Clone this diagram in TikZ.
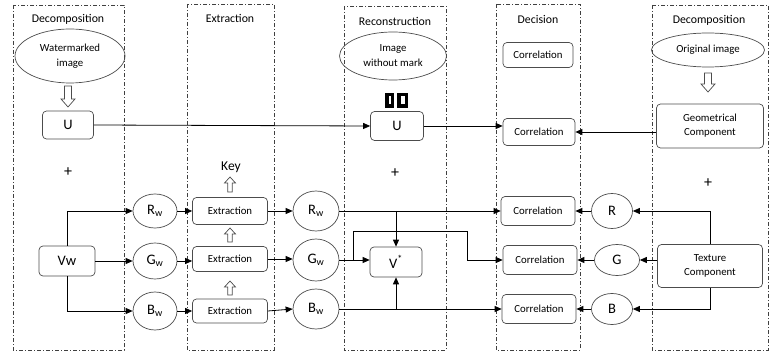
\documentclass[tikz,border=0pt]{standalone}
\usepackage{fontspec}
\setmainfont{Carlito}
\usetikzlibrary{arrows.meta,shapes.geometric}
\newcommand\hdown[3]{\draw[hollow] ({#1-3.5},#2) -- ({#1+3.5},#2) -- ({#1+3.5},{#3-8}) -- ({#1+7},{#3-8}) -- (#1,#3) -- ({#1-7},{#3-8}) -- ({#1-3.5},{#3-8}) -- cycle;}
\newcommand\hup[3]{\draw[hollow] ({#1-2.3},#3) -- ({#1+2.3},#3) -- ({#1+2.3},{#2+6}) -- ({#1+5.5},{#2+6}) -- (#1,#2) -- ({#1-5.5},{#2+6}) -- ({#1-2.3},{#2+6}) -- cycle;}
\begin{document}
\begin{tikzpicture}[x=1pt,y=-1pt,
  panel/.style={draw=black!75, line width=0.8pt, dash pattern=on 4pt off 2pt on 1pt off 2pt},
  rbox/.style={draw=black!70, rounded corners=4pt, line width=0.7pt, inner sep=0pt, align=center, font=\fontsize{10.8}{14}\selectfont},
  ell/.style={draw=black!70, ellipse, line width=0.7pt, inner sep=0pt, align=center, font=\fontsize{10.8}{15}\selectfont},
  ttl/.style={font=\fontsize{11.8}{14}\selectfont},
  big/.style={font=\fontsize{14.5}{16}\selectfont},
  conn/.style={draw=black, line width=0.8pt},
  arr/.style={conn, -{Triangle[length=7pt,width=6pt]}},
  hollow/.style={draw=black!70, line width=0.7pt, fill=white}
]
\useasboundingbox (0,0) rectangle (770,352);
% panels
\draw[panel] (13,5) rectangle (124,350);
\draw[panel] (187,4) rectangle (274,350);
\draw[panel] (344,6) rectangle (446,350);
\draw[panel] (496,4) rectangle (580,350);
\draw[panel] (652,5) rectangle (768,350);
% titles
\node[ttl] (t1) at (68,19) {Decomposition};
\node[ttl] (t2) at (230,18) {Extraction};
\node[ttl] (t3) at (395,21) {Reconstruction};
\node[ttl] (t4) at (538,19) {Decision};
\node[ttl] (t5) at (709,20) {Decomposition};
% ellipses
\node[ell, minimum width=110, minimum height=54] (wm) at (70,56) {Watermarked\\image};
\node[ell, minimum width=107, minimum height=48] (iw) at (393,56) {Image\\without mark};
\node[ell, minimum width=113, minimum height=34] (oi) at (708,50) {Original image};
% hollow arrows
\hdown{68}{86}{107}
\hdown{708}{73}{92}
\hup{230}{177}{192}
\hup{230}{228}{242}
\hup{230}{281}{295}
% glyph boxes
\draw[line width=3.5pt] (386.75,94.75) rectangle (392.25,106.25);
\draw[line width=3.5pt] (398.75,94.75) rectangle (406.25,106.25);
% U boxes
\node[rbox, big, minimum width=51, minimum height=28] (u1) at (68,125) {U};
\node[rbox, big, minimum width=53, minimum height=29] (u2) at (397,126) {U};
\node[rbox, minimum width=70, minimum height=25] (c1) at (538,55) {Correlation};
\node[rbox, minimum width=72, minimum height=27] (c2) at (539,132) {Correlation};
\node[rbox, minimum width=107, minimum height=44] (geo) at (710,126) {Geometrical\\Component};
% plus and key
\node[font=\fontsize{16}{18}\selectfont] (p1) at (68,172) {+};
\node[font=\fontsize{16}{18}\selectfont] (p2) at (395,173) {+};
\node[font=\fontsize{16}{18}\selectfont] (p3) at (708,183) {+};
\node[font=\fontsize{13.5}{15}\selectfont] (key) at (231,167) {Key};
% Vw
\node[rbox, big, minimum width=56, minimum height=30] (vw) at (67,261) {Vw};
\node[ell, big, minimum width=44, minimum height=34] (rw1) at (155,211) {R\textsubscript{w}};
\node[ell, big, minimum width=44, minimum height=36] (gw1) at (155,261) {G\textsubscript{w}};
\node[ell, big, minimum width=44, minimum height=38] (bw1) at (155,311) {B\textsubscript{w}};
% extraction
\node[rbox, minimum width=75, minimum height=27] (ex1) at (230,211) {Extraction};
\node[rbox, minimum width=75, minimum height=25] (ex2) at (230,259) {Extraction};
\node[rbox, minimum width=75, minimum height=24] (ex3) at (230,311) {Extraction};
% extracted
\node[ell, big, minimum width=46, minimum height=40] (rw2) at (316,211) {R\textsubscript{w}};
\node[ell, big, minimum width=46, minimum height=42] (gw2) at (316,260) {G\textsubscript{w}};
\node[ell, big, minimum width=46, minimum height=40] (bw2) at (316,309) {B\textsubscript{w}};
\node[rbox, big, minimum width=52, minimum height=30] (vs) at (396,262) {V\textsuperscript{*}};
% decision
\node[rbox, minimum width=74, minimum height=29] (cr) at (538,211) {Correlation};
\node[rbox, minimum width=74, minimum height=29] (cg) at (540,260) {Correlation};
\node[rbox, minimum width=74, minimum height=29] (cb) at (539,309) {Correlation};
% right
\node[ell, big, minimum width=41, minimum height=35] (r) at (612,211) {R};
\node[ell, big, minimum width=45, minimum height=31] (g) at (617,260) {G};
\node[ell, big, minimum width=41, minimum height=31] (b) at (612,309) {B};
\node[rbox, minimum width=105, minimum height=43] (tex) at (710,266) {Texture\\Component};
% connectors
\draw[arr] (u1.east) -- (u2.west);
\draw[arr] (u2.east) -- (u2.east -| c2.west);
\draw[arr] (geo.west |- c2) -- (c2.east);
\draw[arr] (vw.north) |- (rw1.west);
\draw[arr] (vw.east) -- (gw1.west);
\draw[arr] (vw.south) |- (bw1.west);
\draw[arr] (rw1.east) -- (ex1.west);
\draw[arr] (gw1.east) -- (gw1.east -| ex2.west);
\draw[arr] (bw1.east) -- (ex3.west);
\draw[arr] (ex1.east) -- (rw2.west);
\draw[arr] (ex2.east) -- (ex2.east -| gw2.west);
\draw[arr] (ex3.east) -- (bw2.west);
\draw[arr] (rw2.east) -- (cr.west);
\draw[arr] (vs.north |- rw2) -- (vs.north);
\draw[arr] (gw2.east) -- (gw2.east -| vs.west);
\coordinate (gsplit) at (353,260);
\coordinate (gup) at (467,231);
\draw[arr] (gsplit) |- (gup) |- (cg.west);
\draw[arr] (bw2.east) -- (cb.west);
\draw[arr] (vs.south |- bw2) -- (vs.south);
\draw[arr] (tex.north) |- (r.east);
\draw[arr] (tex.west |- g) -- (g.east);
\draw[arr] (tex.south) |- (b.east);
\draw[arr] (r.west) -- (cr.east);
\draw[arr] (g.west) -- (cg.east);
\draw[arr] (b.west) -- (cb.east);
\end{tikzpicture}
\end{document}
